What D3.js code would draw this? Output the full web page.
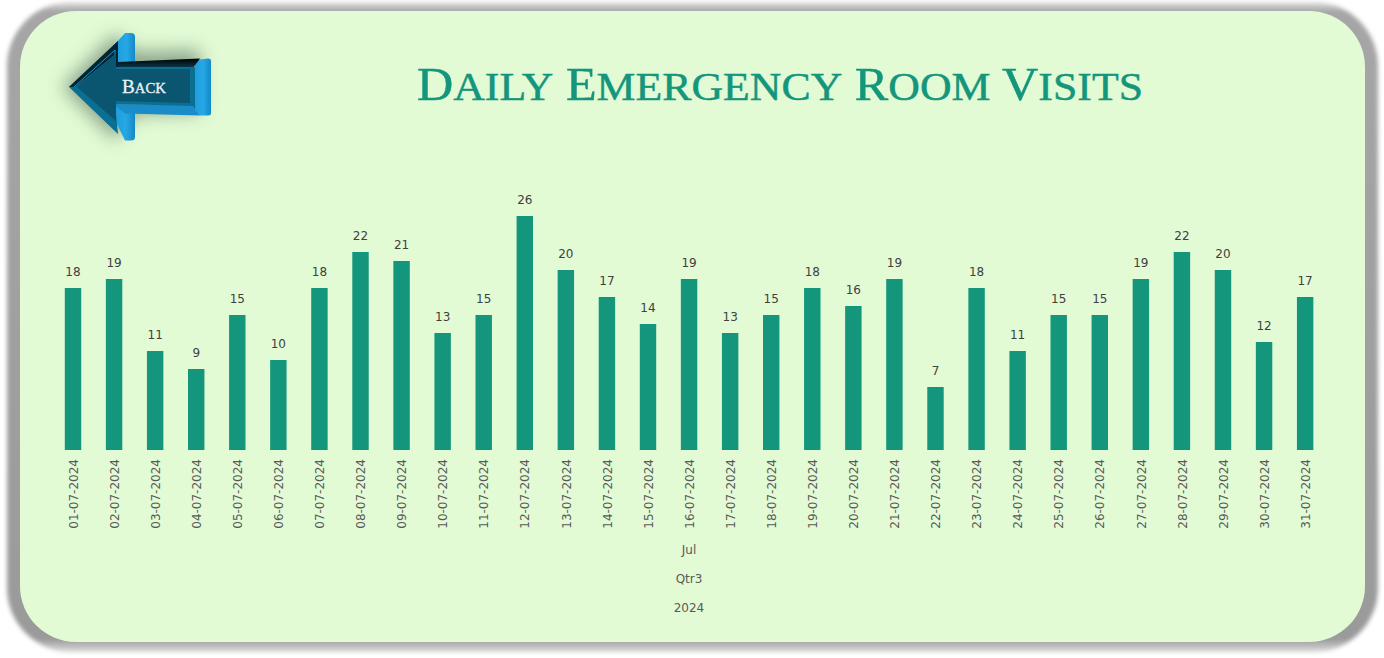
<!DOCTYPE html>
<html>
<head>
<meta charset="utf-8">
<title>Daily Emergency Room Visits</title>
<script src="https://cdn.jsdelivr.net/npm/d3@7"></script>
<style>
  html, body { margin: 0; padding: 0; background: #fff; overflow: hidden; }
  text { font-family: "DejaVu Sans", sans-serif; }
</style>
</head>
<body>
<svg id="chart" width="1384" height="658"></svg>
<script>
// data
const days = ['01-07-2024','02-07-2024','03-07-2024','04-07-2024','05-07-2024','06-07-2024','07-07-2024',
  '08-07-2024','09-07-2024','10-07-2024','11-07-2024','12-07-2024','13-07-2024','14-07-2024','15-07-2024',
  '16-07-2024','17-07-2024','18-07-2024','19-07-2024','20-07-2024','21-07-2024','22-07-2024','23-07-2024',
  '24-07-2024','25-07-2024','26-07-2024','27-07-2024','28-07-2024','29-07-2024','30-07-2024','31-07-2024'];
const visits = [18,19,11,9,15,10,18,22,21,13,15,26,20,17,14,19,13,15,18,16,19,7,18,11,15,15,19,22,20,12,17];
const groupLabels = ['Jul', 'Qtr3', '2024'];
const chartTitle = 'Daily Emergency Room Visits';

const teal = '#14967c';
const svg = d3.select('#chart');
const defs = svg.append('defs');

defs.append('filter').attr('id', 'panel-blur')
  .attr('x', '-2%').attr('y', '-3%').attr('width', '104%').attr('height', '106%')
  .append('feGaussianBlur').attr('stdDeviation', 2);
defs.append('filter').attr('id', 'arrow-blur')
  .attr('x', '-40%').attr('y', '-40%').attr('width', '180%').attr('height', '180%')
  .append('feGaussianBlur').attr('stdDeviation', 9);

function gradient(id, x2, y2, stops) {
  const g = defs.append('linearGradient').attr('id', id)
    .attr('x1', 0).attr('y1', 0).attr('x2', x2).attr('y2', y2);
  stops.forEach(s => g.append('stop').attr('offset', s[0]).attr('stop-color', s[1]));
}
gradient('side-blue', 1, 0, [[0, '#1e9fdc'], [0.5, '#27a8e6'], [1, '#1488c6']]);
gradient('top-dark', 0, 1, [[0, '#000'], [1, '#0a3c50']]);
// shadow is paler at the top and bottom rims than at the sides
gradient('rim', 0, 1, [[0, '#e4e4e4'], [0.014, '#a6a6a6'], [0.98, '#9a9a9a'], [1, '#dcdcdc']]);

// draws a string as big capitals + smaller capitals, keeps the letters as text
function smallCaps(sel, str, big, small) {
  sel.style('text-transform', 'uppercase');
  str.split('').forEach(c => {
    const isCap = c === c.toUpperCase();
    sel.append('tspan').attr('font-size', isCap ? big : small).text(c);
  });
}

// panel + shadow
svg.append('rect')
  .attr('x', 7).attr('y', 2).attr('width', 1371).attr('height', 650).attr('rx', 64)
  .attr('fill', 'url(#rim)').attr('filter', 'url(#panel-blur)');
svg.append('rect')
  .attr('x', 20).attr('y', 11).attr('width', 1345).attr('height', 631).attr('rx', 56)
  .attr('fill', '#e2fbd5');

// back arrow
const arrow = svg.append('g').attr('class', 'back-arrow');
const poly = pts => d3.line()(pts) + 'Z';

arrow.append('path')
  .attr('d', poly([[62,87],[115,34],[135,52],[200,50],[200,112],[135,114],[115,140]]))
  .attr('fill', '#34503f').attr('opacity', 0.5).attr('filter', 'url(#arrow-blur)');

// side faces
arrow.append('path')
  .attr('d', 'M118,41 L125,33 L131,33 Q135,33 135,37 L135,62 L118,64 Z').attr('fill', 'url(#side-blue)');
arrow.append('path')
  .attr('d', 'M116,122 L125,140.5 L131,140.5 Q135,140.5 135,137 L135,112 L116,104 Z').attr('fill', 'url(#side-blue)');
arrow.append('path')
  .attr('d', poly([[113,104],[193,105],[200,115.5],[125,113.5]])).attr('fill', '#1a8cc8');
arrow.append('path')
  .attr('d', 'M195,60 L208,58.5 Q211,58.5 211,61 L211,113 Q211,115.5 208,115.5 L200,115.5 L195,110 Z')
  .attr('fill', 'url(#side-blue)');
arrow.append('path')
  .attr('d', poly([[113,68],[118,62],[200,58.5],[193,68]])).attr('fill', 'url(#top-dark)');

// front face: bevel, dark upper rim, thin light line, inner
arrow.append('path')
  .attr('d', poly([[69,87],[118,41],[118,67],[195,67],[195,109],[193,106],[115,104],[118,134]]))
  .attr('fill', '#0b6f93');
arrow.append('path')
  .attr('d', poly([[69,87],[118,41],[118,67],[113,67],[113,56],[75,87]]))
  .attr('fill', '#032433');
arrow.append('path')
  .attr('d', d3.line()([[74,87],[115,50],[115,68]]))
  .attr('fill', 'none').attr('stroke', '#1b9ad6').attr('stroke-width', 1);
arrow.append('path')
  .attr('d', poly([[77,87],[116,53],[116,69],[190,69],[190,103],[116,101],[116,121]]))
  .attr('fill', '#0a5570');

const backLabel = arrow.append('text')
  .attr('x', 122).attr('y', 93)
  .attr('fill', '#eaf4f6').attr('stroke', '#eaf4f6').attr('stroke-width', 0.3)
  .style('font-family', '"Liberation Serif", serif')
  .attr('textLength', 44).attr('lengthAdjust', 'spacingAndGlyphs');
smallCaps(backLabel, 'Back', 18, 14);

// title
const titleText = svg.append('text')
  .attr('x', 417).attr('y', 100)
  .attr('fill', teal).attr('stroke', teal).attr('stroke-width', 0.5)
  .style('font-family', '"Liberation Serif", serif')
  .attr('textLength', 726).attr('lengthAdjust', 'spacingAndGlyphs');
smallCaps(titleText, chartTitle, 47, 41);

// scales
const x = d3.scaleBand().domain(days).range([52.47, 1325.67]).paddingInner(0.6).paddingOuter(0.3);
const y = d3.scaleLinear().domain([0, 26]).range([450, 216]);

// bars
svg.append('g').selectAll('rect').data(days).join('rect')
  .attr('x', d => x(d))
  .attr('y', (d, i) => y(visits[i]))
  .attr('width', x.bandwidth())
  .attr('height', (d, i) => y(0) - y(visits[i]))
  .attr('fill', teal);

// value labels
svg.append('g').selectAll('text').data(days).join('text')
  .attr('x', d => x(d) + x.bandwidth() / 2)
  .attr('y', (d, i) => y(visits[i]) - 12.5)
  .attr('text-anchor', 'middle')
  .attr('font-size', 12).attr('fill', '#404040')
  .text((d, i) => visits[i]);

// date axis
const axis = svg.append('g').attr('transform', 'translate(0.5,450)')
  .call(d3.axisBottom(x).tickSize(0));
axis.select('.domain').remove();
axis.selectAll('text')
  .attr('transform', 'rotate(-90)')
  .attr('x', -9).attr('y', 0).attr('dy', '0.35em')
  .attr('text-anchor', 'end')
  .style('font-size', '12px').style('font-family', '"DejaVu Sans", sans-serif')
  .attr('fill', '#595959');

// multi level group labels
const groupY = d3.scalePoint().domain(groupLabels).range([553.5, 612]);
svg.append('g').selectAll('text').data(groupLabels).join('text')
  .attr('x', 689)
  .attr('y', d => groupY(d))
  .attr('text-anchor', 'middle')
  .attr('font-size', 12).attr('fill', '#595959')
  .text(d => d);
</script>
</body>
</html>
